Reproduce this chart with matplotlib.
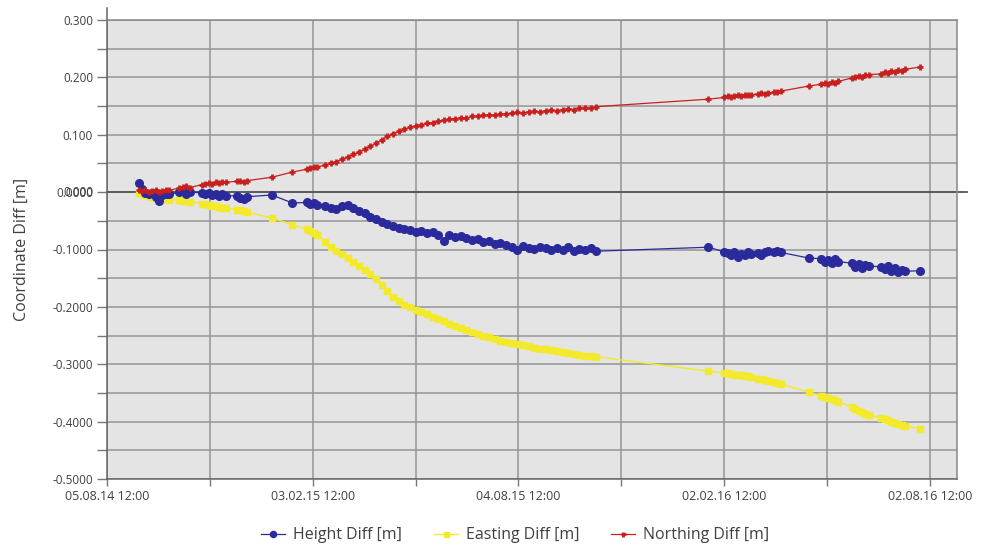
import numpy as np
import pandas as pd
import matplotlib
matplotlib.use("Agg")
import matplotlib.pyplot as plt

plt.rcParams['font.family'] = ['Open Sans', 'DejaVu Sans']

## Observation epochs, days after 05.08.14 12:00
day_offsets = [
    28, 31, 34, 37, 40, 43, 46, 49, 52, 55,
    64, 67, 70, 73,
    84, 87, 90, 93, 96, 99, 102, 105,
    115, 118, 121, 124,
    146, 164,
    177, 180, 183, 186,
    193, 198, 203, 208, 213, 218, 223, 228, 233, 238,
    243, 248, 253, 258, 263, 268, 273, 278, 283, 288,
    293, 298, 303, 308, 313, 318, 323, 328, 333, 338,
    343, 348, 353, 358, 363, 368, 373, 378, 383, 388,
    393, 398, 403, 408, 413, 418, 423, 428, 433,
    532,
    546, 549, 552, 555, 558, 561, 564, 567, 570,
    576, 579, 582, 585,
    590, 593, 596,
    621,
    632, 635, 638, 641, 644, 647,
    659, 662, 665, 668, 671, 674,
    685, 688, 691, 694, 697, 700, 703, 706,
    719,
]

## Height Diff [m]
height_diff = [
    0.016, 0.005, -0.001, -0.004, -0.002, -0.008, -0.015, -0.005, -0.003, -0.004,
    0.000, 0.002, -0.003, 0.001,
    -0.002, -0.004, -0.001, -0.005, -0.003, -0.006, -0.004, -0.007,
    -0.006, -0.010, -0.012, -0.008,
    -0.005, -0.019,
    -0.018, -0.021, -0.019, -0.022,
    -0.024, -0.027, -0.029, -0.025, -0.023, -0.028, -0.033, -0.037, -0.043, -0.046,
    -0.052, -0.055, -0.059, -0.062, -0.064, -0.066, -0.069, -0.067, -0.072, -0.070,
    -0.074, -0.086, -0.075, -0.078, -0.076, -0.080, -0.084, -0.081, -0.087, -0.085,
    -0.090, -0.088, -0.093, -0.096, -0.100, -0.094, -0.097, -0.099, -0.095, -0.098,
    -0.101, -0.097, -0.100, -0.096, -0.102, -0.099, -0.101, -0.098, -0.103,
    -0.096,
    -0.104, -0.106, -0.110, -0.105, -0.113, -0.107, -0.109, -0.104, -0.108,
    -0.106, -0.109, -0.105, -0.103,
    -0.104, -0.102, -0.105,
    -0.115,
    -0.116, -0.122, -0.118, -0.124, -0.117, -0.121,
    -0.124, -0.130, -0.126, -0.133, -0.127, -0.129,
    -0.130, -0.134, -0.128, -0.137, -0.133, -0.140, -0.135, -0.138,
    -0.137,
]

## Easting Diff [m]
easting_diff = [
    -0.002, -0.004, -0.005, -0.006, -0.008, -0.009, -0.010, -0.011, -0.012, -0.013,
    -0.014, -0.015, -0.016, -0.017,
    -0.020, -0.021, -0.022, -0.024, -0.025, -0.026, -0.027, -0.028,
    -0.031, -0.032, -0.033, -0.035,
    -0.045, -0.057,
    -0.065, -0.068, -0.071, -0.074,
    -0.087, -0.096, -0.102, -0.108, -0.115, -0.121, -0.128, -0.135, -0.142, -0.152,
    -0.162, -0.172, -0.182, -0.190, -0.196, -0.201, -0.205, -0.209, -0.213, -0.217,
    -0.221, -0.225, -0.229, -0.233, -0.237, -0.240, -0.244, -0.247, -0.250, -0.253,
    -0.256, -0.259, -0.261, -0.263, -0.265, -0.267, -0.269, -0.271, -0.273, -0.274,
    -0.276, -0.277, -0.279, -0.281, -0.282, -0.284, -0.285, -0.286, -0.287,
    -0.312,
    -0.315, -0.316, -0.317, -0.318, -0.318, -0.319, -0.320, -0.321, -0.322,
    -0.325, -0.326, -0.328, -0.329,
    -0.331, -0.333, -0.334,
    -0.349,
    -0.355, -0.357, -0.359, -0.361, -0.363, -0.365,
    -0.375, -0.378, -0.381, -0.383, -0.386, -0.388,
    -0.394, -0.396, -0.398, -0.400, -0.402, -0.404, -0.406, -0.408,
    -0.412,
]

## Northing Diff [m]
northing_diff = [
    0.004, 0.002, 0.003, 0.001, 0.002, 0.003, 0.001, 0.002, 0.004, 0.003,
    0.007, 0.009, 0.010, 0.008,
    0.013, 0.015, 0.016, 0.014, 0.017, 0.016, 0.018, 0.017,
    0.019, 0.020, 0.018, 0.020,
    0.026, 0.035,
    0.040, 0.042, 0.043, 0.044,
    0.047, 0.051, 0.053, 0.058, 0.061, 0.066, 0.070, 0.075, 0.080, 0.085,
    0.091, 0.097, 0.102, 0.106, 0.110, 0.113, 0.116, 0.117, 0.120, 0.121,
    0.124, 0.125, 0.127, 0.128, 0.130, 0.129, 0.132, 0.133, 0.134, 0.135,
    0.134, 0.137, 0.136, 0.138, 0.139, 0.138, 0.140, 0.141, 0.140, 0.142,
    0.143, 0.142, 0.144, 0.145, 0.144, 0.146, 0.147, 0.146, 0.149,
    0.162,
    0.165, 0.167, 0.166, 0.168, 0.169, 0.167, 0.170, 0.169, 0.170,
    0.171, 0.172, 0.171, 0.173,
    0.174, 0.175, 0.176,
    0.185,
    0.188, 0.190, 0.189, 0.192, 0.191, 0.193,
    0.199, 0.201, 0.203, 0.200, 0.204, 0.205,
    0.206, 0.209, 0.207, 0.211, 0.210, 0.212, 0.211, 0.214,
    0.218,
]

## Axis ticks
x_tick_dates = ['2014-08-05 12:00', '2015-02-03 12:00', '2015-08-04 12:00',
                '2016-02-02 12:00', '2016-08-02 12:00']
x_tick_labels = ['05.08.14 12:00', '03.02.15 12:00', '04.08.15 12:00',
                 '02.02.16 12:00', '02.08.16 12:00']
y_ticks = [0.3, 0.2, 0.1, 0.0, -0.1, -0.2, -0.3, -0.4, -0.5]
y_tick_labels = ['0.300', '0.200', '0.100', '0.0000', '-0.1000', '-0.2000',
                 '-0.3000', '-0.4000', '-0.5000']

t0 = pd.Timestamp(x_tick_dates[0])
dates = t0 + pd.to_timedelta(day_offsets, unit='D')
major = pd.to_datetime(x_tick_dates)
minor = major[:-1] + pd.Timedelta(days=91)

fig = plt.figure(figsize=(9.87, 5.48), dpi=100)
ax = fig.add_axes([107 / 987, 1 - 479 / 548, 850 / 987, 459 / 548])
ax.set_facecolor('#e4e4e4')

ax.plot(dates, easting_diff, color='#f2ea2a', lw=1.0, marker='s', ms=4.5,
        mec='#f2ea2a', label='Easting Diff [m]', zorder=3)
ax.plot(dates, height_diff, color='#2a2a9c', lw=0.9, marker='o', ms=5.5,
        mec='#2a2a9c', label='Height Diff [m]', zorder=4)
ax.plot(dates, northing_diff, color='#c8201e', lw=0.9, marker='+', ms=4.5,
        mew=2.0, label='Northing Diff [m]', zorder=5)

ax.set_xlim(t0, t0 + pd.Timedelta(days=752))
ax.set_ylim(-0.5, 0.3)

ax.set_xticks(major)
ax.set_xticklabels(x_tick_labels)
ax.set_xticks(minor, minor=True)
ax.set_yticks(y_ticks)
ax.set_yticklabels(y_tick_labels)
ax.set_yticks(np.arange(-0.45, 0.3, 0.1), minor=True)

ax.tick_params(which='both', length=7, width=1, color='#777777',
               labelsize=8.5, labelcolor='#404040', pad=3)
ax.tick_params(axis='x', which='both', length=5, pad=3, labelsize=9)

ax.grid(which='both', color='#959595', lw=1.1)
ax.set_axisbelow(True)

for s in ax.spines.values():
    s.set_color('#888888')
    s.set_linewidth(1.1)
ax.spines['left'].set_color('#666666')
ax.spines['bottom'].set_color('#666666')

# zero line runs past the right border, left axis past the top
ax.plot([0, 1.012], [0, 0], transform=ax.get_yaxis_transform(), color='#555555',
        lw=1.3, clip_on=False, zorder=2)
ax.plot([0, 0], [1, 1.026], transform=ax.transAxes, color='#666666',
        lw=1.1, clip_on=False)

# the overlapping zero label of the original
ax.annotate('0.000', xy=(0, 0), xycoords=ax.get_yaxis_transform(),
            xytext=(-10, 0), textcoords='offset points', ha='right', va='center',
            fontsize=8.5, color='#404040')

ax.set_ylabel('Coordinate Diff [m]', fontsize=11.5, color='#404040', labelpad=16)

h, l = ax.get_legend_handles_labels()
order = [1, 0, 2]
fig.legend([h[i] for i in order], [l[i] for i in order], loc='lower center',
           bbox_to_anchor=(0.522, -0.018), ncol=3, frameon=False, fontsize=11.5,
           labelcolor='#404040', handlelength=1.5, columnspacing=2.0,
           handletextpad=0.5, markerscale=0.8)

fig.savefig('out.png', dpi=100)
